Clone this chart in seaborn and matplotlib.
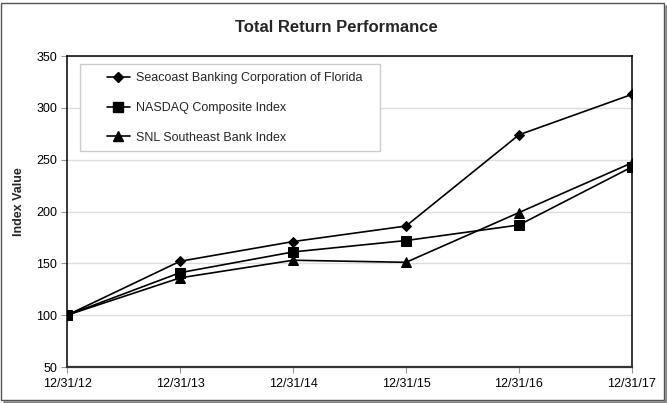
import numpy as np
import pandas as pd
import matplotlib
matplotlib.use('Agg')
import matplotlib.pyplot as plt
import seaborn as sns
from matplotlib.patches import Rectangle
from matplotlib.lines import Line2D

# Chart data
dates = ['12/31/12', '12/31/13', '12/31/14', '12/31/15', '12/31/16', '12/31/17']
seacoast = [100, 152, 171, 186, 274, 313]
nasdaq = [100, 141, 161, 172, 187, 243]
snl = [100, 136, 153, 151, 199, 247]

series_names = ['Seacoast Banking Corporation of Florida',
                'NASDAQ Composite Index',
                'SNL Southeast Bank Index']
series_values = [seacoast, nasdaq, snl]
markers = ['D', 's', '^']
marker_sizes = [5, 7, 7]

sns.set_theme(style='white')
plt.rcParams['font.family'] = ['Liberation Sans', 'DejaVu Sans']

fig = plt.figure(figsize=(6.67, 4.03), dpi=100)
ax = fig.add_axes([0.1005, 0.0893, 0.847, 0.7717])

pos = np.arange(len(dates))
for name, vals, mk, ms in zip(series_names, series_values, markers, marker_sizes):
    df = pd.DataFrame({'x': pos, 'y': vals})
    sns.lineplot(data=df, x='x', y='y', ax=ax, color='black', linewidth=1.2,
                 marker=mk, markersize=ms, markeredgecolor='black',
                 markerfacecolor='black', label=name, legend=False)

ax.set_xlim(0, len(dates) - 1)
ax.set_ylim(50, 350)
ax.set_xticks(pos)
ax.set_xticklabels(dates)
ax.set_yticks(np.arange(50, 351, 50))
ax.tick_params(axis='both', labelsize=9, colors='#999999', labelcolor='black',
               direction='out', length=4, width=0.8, bottom=True, left=True)
ax.tick_params(axis='y', pad=3)
ax.tick_params(axis='x', pad=4)
ax.set_xlabel('')
ax.set_ylabel('')
ax.grid(axis='y', color='#dddddd', linewidth=1)
ax.set_axisbelow(True)
for s in ax.spines.values():
    s.set_color('black')
    s.set_linewidth(1.1)
ax.spines['bottom'].set_color('#333333')
ax.spines['bottom'].set_linewidth(1.6)

# legend box
ax.add_patch(Rectangle((0.023, 0.694), 0.531, 0.28, transform=ax.transAxes,
                       facecolor='white', edgecolor='#cccccc', linewidth=1, zorder=3))
handles = [Line2D([0], [0], color='black', lw=1.2, marker=mk, markersize=ms)
           for mk, ms in zip(markers, marker_sizes)]
ax.legend(handles, series_names, loc='upper left', bbox_to_anchor=(0.071, 0.948),
          frameon=False, fontsize=9, handlelength=1.8, handletextpad=0.5,
          labelspacing=1.42, borderaxespad=0, borderpad=0)

fig.text(0.504, 0.933, 'Total Return Performance', ha='center', va='center',
         fontsize=12, fontweight='bold')
fig.text(0.028, 0.5, 'Index Value', ha='center', va='center', rotation=90,
         fontsize=9, fontweight='bold')

# outer frame with shadow
W, H = 667, 403
fig.patches.append(Rectangle((0.5 / W, 1 - 400 / H), 663 / W, 397.5 / H,
                             transform=fig.transFigure, fill=False,
                             edgecolor='#555555', linewidth=1))
fig.lines.append(Line2D([665.5 / W, 665.5 / W], [1 - 402 / H, 1 - 6 / H],
                        transform=fig.transFigure, color='#888888', lw=2))
fig.lines.append(Line2D([4 / W, 666 / W], [1 - 401.5 / H, 1 - 401.5 / H],
                        transform=fig.transFigure, color='#888888', lw=2))

fig.savefig('out.png', dpi=100)
